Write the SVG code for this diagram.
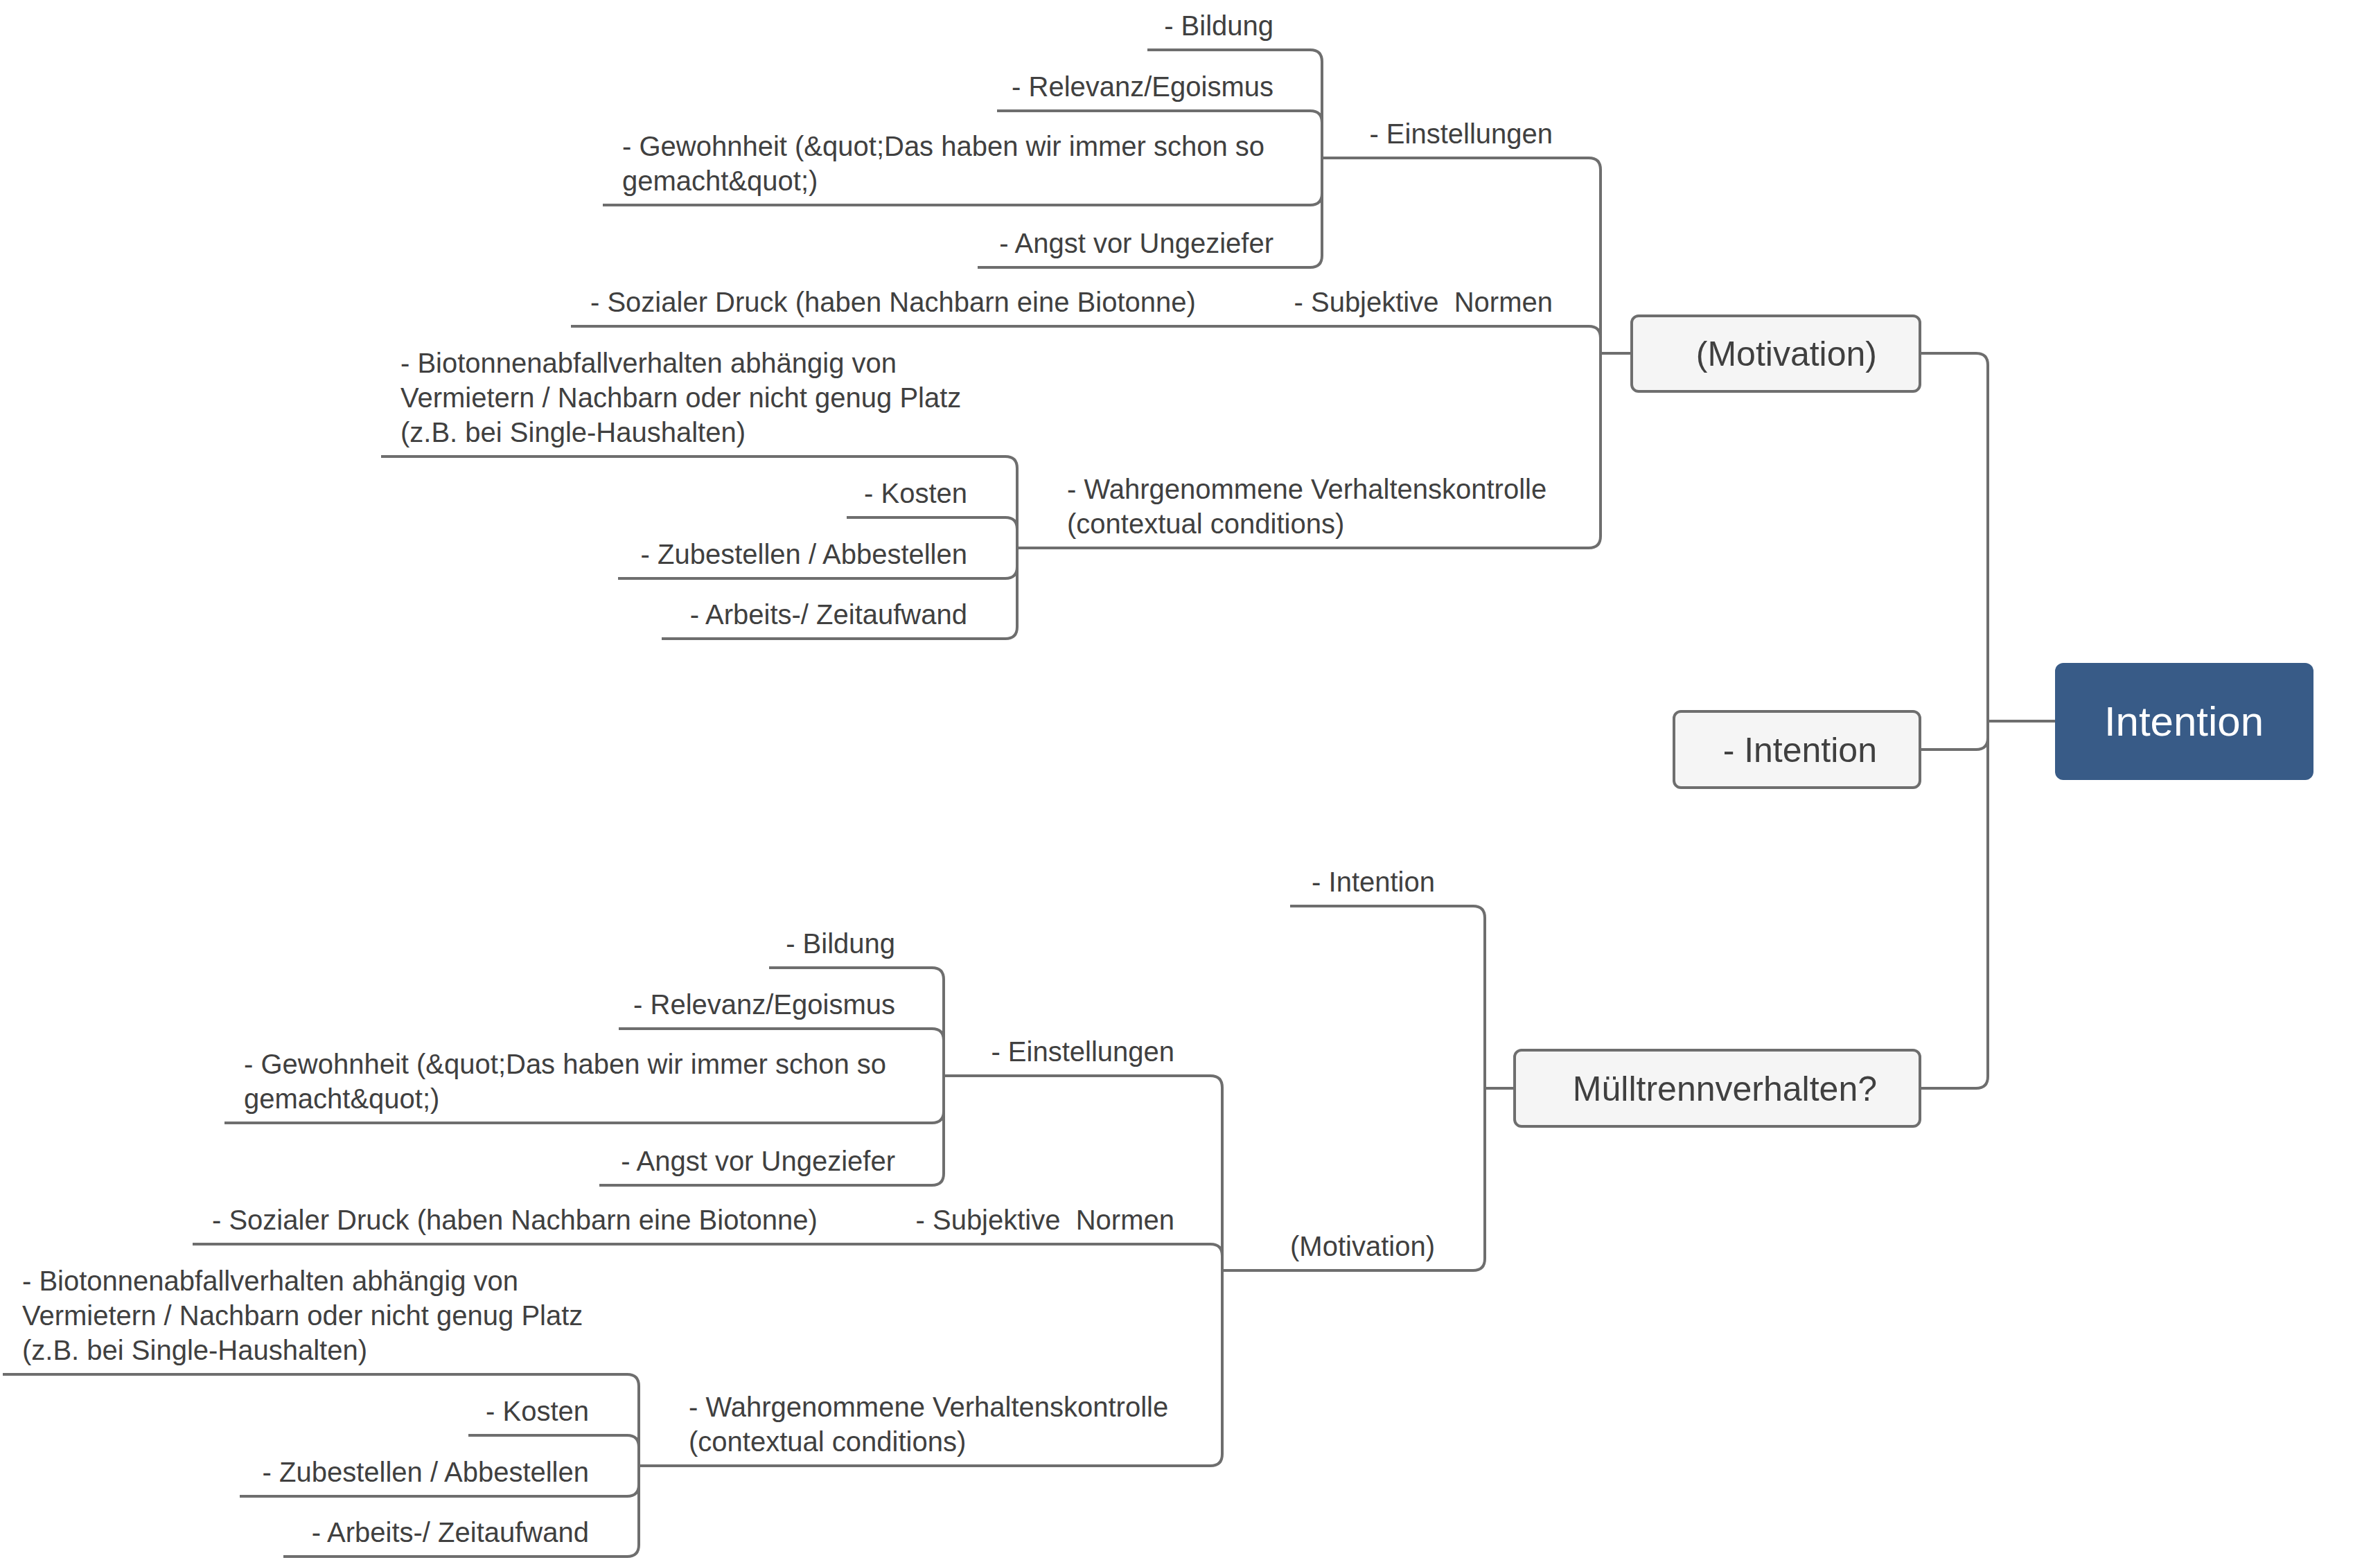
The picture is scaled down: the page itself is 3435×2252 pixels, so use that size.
<svg xmlns="http://www.w3.org/2000/svg" width="3435" height="2252" viewBox="0 0 3435 2252">
<style>
.c{fill:none;stroke:#6e6e6e;stroke-width:4;stroke-linecap:butt;stroke-linejoin:round}
.t{font-family:"Liberation Sans",Arial,sans-serif;font-size:40px;fill:#404040;white-space:pre}
.e{text-anchor:end}
.b{fill:#f5f5f5;stroke:#6e6e6e;stroke-width:4}
.bt{font-family:"Liberation Sans",Arial,sans-serif;font-size:50px;fill:#404040;text-anchor:end}
</style>
<rect width="3435" height="2252" fill="#ffffff"/>
<g id="connectors">
<path class="c" d="M2771,510 H2852 Q2869,510 2869,527 V1554 Q2869,1571 2852,1571 H2771"/>
<path class="c" d="M2771,1082 H2852 Q2869,1082 2869,1065"/>
<path class="c" d="M2869,1041 H2966"/>
<path class="c" d="M2310,510 H2355"/>
<path class="c" d="M1908,228 H2293 Q2310,228 2310,245 V774 Q2310,791 2293,791 H1468"/>
<path class="c" d="M824,471 H2293 Q2310,471 2310,488"/>
<path class="c" d="M1656,72 H1891 Q1908,72 1908,89 V369 Q1908,386 1891,386 H1411"/>
<path class="c" d="M1439,160 H1891 Q1908,160 1908,177"/>
<path class="c" d="M870,296 H1891 Q1908,296 1908,279"/>
<path class="c" d="M550,659 H1451 Q1468,659 1468,676 V905 Q1468,922 1451,922 H955"/>
<path class="c" d="M1222,747 H1451 Q1468,747 1468,764"/>
<path class="c" d="M892,835 H1451 Q1468,835 1468,818"/>
<path class="c" d="M2143,1571 H2186"/>
<path class="c" d="M1862,1308 H2126 Q2143,1308 2143,1325 V1817 Q2143,1834 2126,1834 H1764"/>
<path class="c" d="M1362,1553 H1747 Q1764,1553 1764,1570 V2099 Q1764,2116 1747,2116 H922"/>
<path class="c" d="M278,1796 H1747 Q1764,1796 1764,1813"/>
<path class="c" d="M1110,1397 H1345 Q1362,1397 1362,1414 V1694 Q1362,1711 1345,1711 H865"/>
<path class="c" d="M893,1485 H1345 Q1362,1485 1362,1502"/>
<path class="c" d="M324,1621 H1345 Q1362,1621 1362,1604"/>
<path class="c" d="M4,1984 H905 Q922,1984 922,2001 V2230 Q922,2247 905,2247 H409"/>
<path class="c" d="M676,2072 H905 Q922,2072 922,2089"/>
<path class="c" d="M346,2160 H905 Q922,2160 922,2143"/>
</g>
<g id="root-intention">
<rect x="2966" y="957" width="373" height="169" rx="12" fill="#385b87"/>
<text x="3152" y="1062" font-family="Liberation Sans, Arial, sans-serif" font-size="60" fill="#ffffff" text-anchor="middle">Intention</text>
</g>
<g id="motivation-top">
<rect class="b" x="2355" y="456" width="416" height="109" rx="10"/>
<text class="bt" x="2709" y="528">(Motivation)</text>
</g>
<g id="intention-mid">
<rect class="b" x="2416" y="1027" width="355" height="110" rx="10"/>
<text class="bt" x="2709" y="1100">- Intention</text>
</g>
<g id="muelltrennverhalten">
<rect class="b" x="2186" y="1516" width="585" height="110" rx="10"/>
<text class="bt" x="2709" y="1589">Mülltrennverhalten?</text>
</g>
<g id="u-einstellungen"><text class="t e" x="2241" y="207">- Einstellungen</text></g>
<g id="u-bildung"><text class="t e" x="1838" y="51">- Bildung</text></g>
<g id="u-relevanz"><text class="t e" x="1838" y="139">- Relevanz/Egoismus</text></g>
<g id="u-gewohnheit"><text class="t" x="898" y="225">- Gewohnheit (&amp;quot;Das haben wir immer schon so</text><text class="t" x="898" y="275">gemacht&amp;quot;)</text></g>
<g id="u-angst"><text class="t e" x="1838" y="365">- Angst vor Ungeziefer</text></g>
<g id="u-subjektive"><text class="t e" x="2241" y="450">- Subjektive  Normen</text></g>
<g id="u-sozialer"><text class="t" x="852" y="450">- Sozialer Druck (haben Nachbarn eine Biotonne)</text></g>
<g id="u-wahrgenommene"><text class="t" x="1540" y="720">- Wahrgenommene Verhaltenskontrolle</text><text class="t" x="1540" y="770">(contextual conditions)</text></g>
<g id="u-biotonnen"><text class="t" x="578" y="538">- Biotonnenabfallverhalten abhängig von</text><text class="t" x="578" y="588">Vermietern / Nachbarn oder nicht genug Platz</text><text class="t" x="578" y="638">(z.B. bei Single-Haushalten)</text></g>
<g id="u-kosten"><text class="t e" x="1396" y="726">- Kosten</text></g>
<g id="u-zubestellen"><text class="t e" x="1396" y="814">- Zubestellen / Abbestellen</text></g>
<g id="u-arbeits"><text class="t e" x="1396" y="901">- Arbeits-/ Zeitaufwand</text></g>
<g id="l-intention"><text class="t e" x="2071" y="1287">- Intention</text></g>
<g id="l-motivation"><text class="t e" x="2071" y="1813">(Motivation)</text></g>
<g id="l-einstellungen"><text class="t e" x="1695" y="1532">- Einstellungen</text></g>
<g id="l-bildung"><text class="t e" x="1292" y="1376">- Bildung</text></g>
<g id="l-relevanz"><text class="t e" x="1292" y="1464">- Relevanz/Egoismus</text></g>
<g id="l-gewohnheit"><text class="t" x="352" y="1550">- Gewohnheit (&amp;quot;Das haben wir immer schon so</text><text class="t" x="352" y="1600">gemacht&amp;quot;)</text></g>
<g id="l-angst"><text class="t e" x="1292" y="1690">- Angst vor Ungeziefer</text></g>
<g id="l-subjektive"><text class="t e" x="1695" y="1775">- Subjektive  Normen</text></g>
<g id="l-sozialer"><text class="t" x="306" y="1775">- Sozialer Druck (haben Nachbarn eine Biotonne)</text></g>
<g id="l-wahrgenommene"><text class="t" x="994" y="2045">- Wahrgenommene Verhaltenskontrolle</text><text class="t" x="994" y="2095">(contextual conditions)</text></g>
<g id="l-biotonnen"><text class="t" x="32" y="1863">- Biotonnenabfallverhalten abhängig von</text><text class="t" x="32" y="1913">Vermietern / Nachbarn oder nicht genug Platz</text><text class="t" x="32" y="1963">(z.B. bei Single-Haushalten)</text></g>
<g id="l-kosten"><text class="t e" x="850" y="2051">- Kosten</text></g>
<g id="l-zubestellen"><text class="t e" x="850" y="2139">- Zubestellen / Abbestellen</text></g>
<g id="l-arbeits"><text class="t e" x="850" y="2226">- Arbeits-/ Zeitaufwand</text></g>
</svg>
